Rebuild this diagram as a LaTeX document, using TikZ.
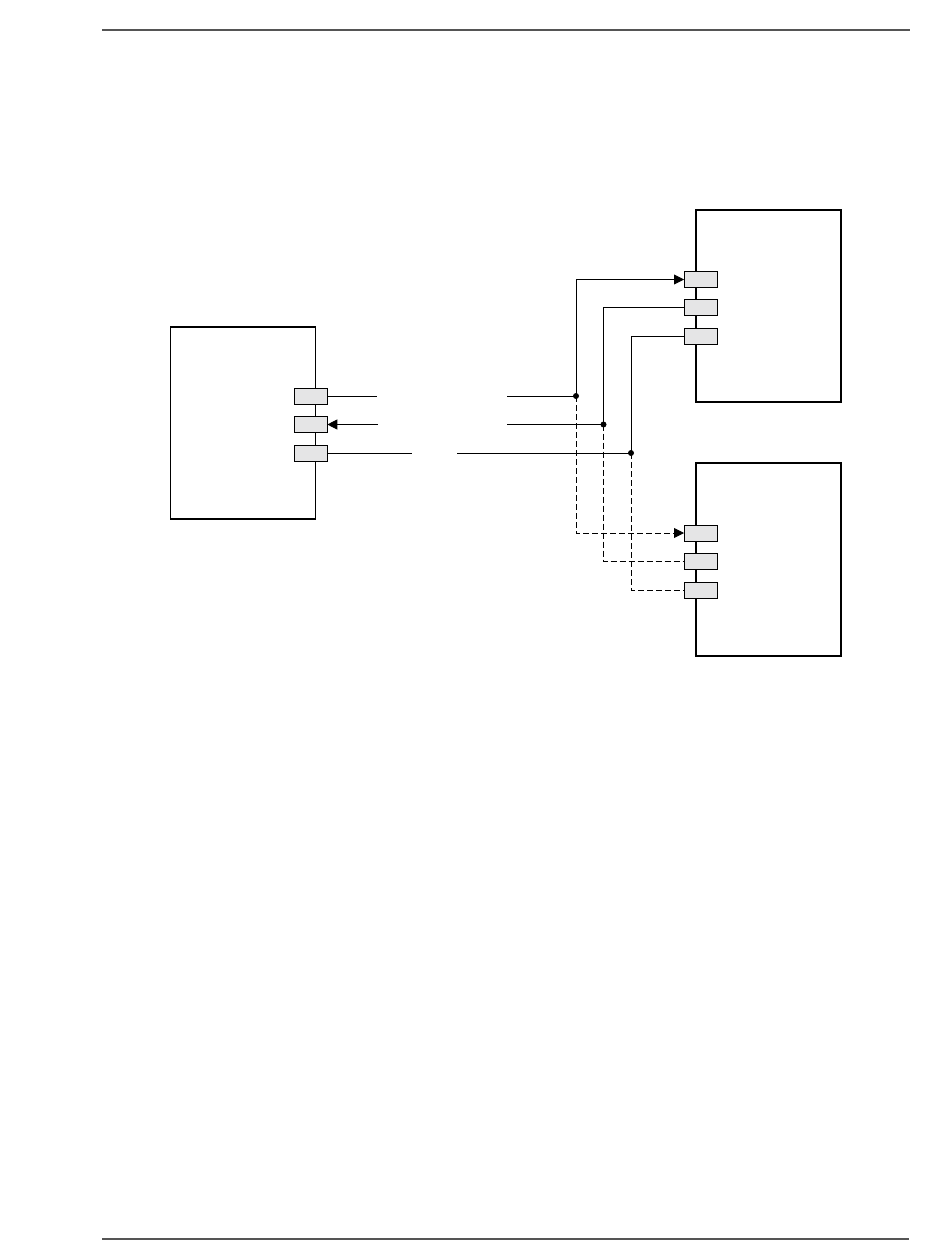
\documentclass[tikz,border=0pt]{standalone}
\usetikzlibrary{arrows.meta}
\definecolor{portgray}{RGB}{229,229,230}
\definecolor{rulegray}{RGB}{85,85,85}
\begin{document}
\begin{tikzpicture}[x=1pt,y=-1pt,
  unitbox/.style={draw=black,line width=1.7pt,minimum width=145pt,minimum height=192pt,inner sep=0pt,outer sep=0pt},
  portbox/.style={draw=black,fill=portgray,line width=0.9pt,minimum width=33pt,minimum height=16pt,inner sep=0pt,outer sep=0pt},
  wire/.style={line width=0.9pt},
  dwire/.style={line width=0.9pt,dash pattern=on 6pt off 3pt},
  tip/.style={-{Triangle[length=10pt,width=10pt]}},
  junct/.style={circle,fill=black,inner sep=0pt,minimum size=6pt},
  rulestyle/.style={draw=rulegray,line width=2pt}]
\useasboundingbox (0,0) rectangle (950,1260);
% header and footer rules
\coordinate (rtA) at (102,30);
\coordinate (rtB) at (910,30);
\coordinate (rbA) at (102,1239);
\coordinate (rbB) at (909,1239);
\draw[rulestyle] (rtA) -- (rtB);
\draw[rulestyle] (rbA) -- (rbB);
% boxes
\node[unitbox] (left) at (243,423) {};
\node[unitbox] (upper) at (768.5,306) {};
\node[unitbox,minimum height=193pt] (lower) at (768.5,559.5) {};
% ports
\node[portbox] (L1) at (310.8,396) {};
\node[portbox] (L2) at (310.8,424.5) {};
\node[portbox] (L3) at (310.8,453) {};
\node[portbox] (U1) at (700.5,279.5) {};
\node[portbox] (U2) at (700.5,307.5) {};
\node[portbox] (U3) at (700.5,336) {};
\node[portbox] (D1) at (700.5,533) {};
\node[portbox] (D2) at (700.5,561.5) {};
\node[portbox] (D3) at (700.5,590) {};
% junctions
\node[junct] (J1) at (576,396) {};
\node[junct] (J2) at (603.5,424.5) {};
\node[junct] (J3) at (631,453) {};
% gap ends
\coordinate (g1a) at (377,396);
\coordinate (g1b) at (507,396);
\coordinate (g2a) at (378,424.5);
\coordinate (g2b) at (507,424.5);
\coordinate (g3a) at (412,453);
\coordinate (g3b) at (457,453);
% wires from left unit
\draw[wire] (L1.east) -- (g1a);
\draw[wire] (g1b) -- (J1.center);
\draw[wire,tip] (g2a) -- (L2.east);
\draw[wire] (g2b) -- (J2.center);
\draw[wire] (L3.east) -- (g3a);
\draw[wire] (g3b) -- (J3.center);
% solid wires to upper unit
\draw[wire,tip] (J1.center) |- (U1.west);
\draw[wire] (J2.center) |- (U2.west);
\draw[wire] (J3.center) |- (U3.west);
% dashed wires to lower unit
\draw[dwire,tip] (J1.center) |- (D1.west);
\draw[dwire] (J2.center) |- (D2.west);
\draw[dwire] (J3.center) |- (D3.west);
\end{tikzpicture}
\end{document}
